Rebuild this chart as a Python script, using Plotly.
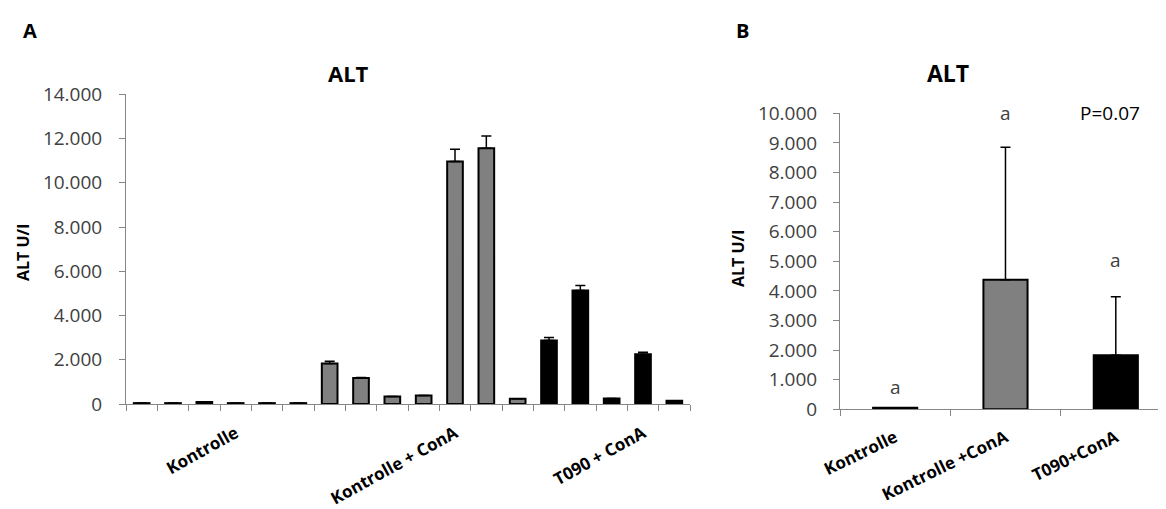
import plotly.graph_objects as go

# ---------------- Data: panel A (individual animals) ----------------
samples_a = ["K1", "K2", "K3", "K4", "K5", "K6",
             "KC1", "KC2", "KC3", "KC4", "KC5", "KC6", "KC7",
             "T1", "T2", "T3", "T4", "T5"]
alt_a = [40, 40, 90, 40, 40, 40,
         1830, 1170, 340, 380, 10960, 11560, 240,
         2870, 5130, 250, 2250, 150]
err_a = [0, 0, 0, 0, 0, 0,
         100, 30, 0, 0, 560, 560, 0,
         140, 230, 0, 90, 0]
groups_a = ["Kontrolle", "Kontrolle + ConA", "T090 + ConA"]
group_label_index_a = [3, 10, 16]
colors_a = ["#808080"] * 13 + ["#000000"] * 5
yticks_a = [0, 2000, 4000, 6000, 8000, 10000, 12000, 14000]

# ---------------- Data: panel B (group means) ----------------
groups_b = ["Kontrolle", "Kontrolle +ConA", "T090+ConA"]
alt_b = [50, 4380, 1830]
err_b = [0, 4470, 1970]
colors_b = ["#000000", "#808080", "#000000"]
letters_b = ["a", "a", "a"]
letter_y_b = [750, 10000, 5050]
yticks_b = [0, 1000, 2000, 3000, 4000, 5000, 6000, 7000, 8000, 9000, 10000]

# page body has an 8px default margin: figure is sized to fit the window
OFF = 8
W, H = 1166 - OFF, 509 - OFF
FONT = "Open Sans"
AX = "#868686"
TXT = "#404040"

ticktext_a = [""] * len(samples_a)
for g, i in zip(groups_a, group_label_index_a):
    ticktext_a[i] = g

fig = go.Figure()

fig.add_trace(go.Bar(
    x=samples_a, y=alt_a, xaxis="x", yaxis="y",
    marker=dict(color=colors_a, line=dict(color="#000000", width=2)),
    error_y=dict(type="data", symmetric=False, array=err_a,
                 arrayminus=[0] * len(err_a), color="#000000",
                 thickness=1.5, width=5),
    showlegend=False,
))

fig.add_trace(go.Bar(
    x=groups_b, y=alt_b, xaxis="x2", yaxis="y2", width=0.4,
    marker=dict(color=colors_b, line=dict(color="#000000", width=2)),
    error_y=dict(type="data", symmetric=False, array=err_b,
                 arrayminus=[0] * len(err_b), color="#000000",
                 thickness=1.5, width=5),
    showlegend=False,
))

def px_x(p):
    return (p - OFF) / W

def px_y(p):
    return 1 - (p - OFF) / H

axis_common = dict(showline=True, linecolor=AX, linewidth=1, showgrid=False,
                   zeroline=False, ticks="outside", tickcolor=AX, ticklen=6,
                   automargin=False)

fig.update_layout(
    template="none",
    width=W, height=H,
    margin=dict(l=0, r=0, t=0, b=0, pad=0),
    paper_bgcolor="white", plot_bgcolor="white",
    separators=",.",
    bargap=0.5,
    showlegend=False,
    font=dict(family=FONT, color=TXT),
    xaxis=dict(**axis_common, domain=[px_x(126), px_x(690)], anchor="y",
               type="category", tickson="boundaries",
               tickmode="array", tickvals=samples_a, ticktext=ticktext_a,
               tickangle=-29, ticklabelstandoff=12,
               tickfont=dict(family=FONT, size=17, color="#000000", weight="bold")),
    yaxis=dict(**axis_common, domain=[px_y(404), px_y(94.3)], anchor="x",
               range=[0, 14000], tickmode="array", tickvals=yticks_a,
               tickformat=",d", ticklabelstandoff=13,
               tickfont=dict(family=FONT, size=19, color=TXT)),
    xaxis2=dict(**axis_common, domain=[px_x(840), 1.0], anchor="y2",
                type="category", tickson="boundaries",
                range=[-0.5, 2.455],
                tickangle=-26, ticklabelstandoff=11,
                tickfont=dict(family=FONT, size=17, color="#000000", weight="bold")),
    yaxis2=dict(**axis_common, domain=[px_y(409.3), px_y(113.3)], anchor="x2",
                range=[0, 10000], tickmode="array", tickvals=yticks_b,
                tickformat=",d", ticklabelstandoff=12,
                tickfont=dict(family=FONT, size=19, color=TXT)),
)

def paper_ann(text, x, y, size, color="#000000", angle=0):
    return dict(text=text, x=px_x(x), y=px_y(y), xref="paper", yref="paper",
                xanchor="center", yanchor="middle", textangle=angle,
                showarrow=False, font=dict(size=size, color=color))

ann = [
    paper_ann("<b>A</b>", 30, 30, 20),
    paper_ann("<b>B</b>", 742, 30, 20),
    paper_ann("<b>ALT</b>", 348, 73, 22),
    paper_ann("<b>ALT</b>", 948, 73, 23),
    paper_ann("<b>ALT U/l</b>", 23, 252, 16, angle=-90),
    paper_ann("<b>ALT U/l</b>", 738, 258, 16, angle=-90),
    paper_ann("P=0.07", 1110, 113, 19),
]
for g, letter, ly in zip(groups_b, letters_b, letter_y_b):
    ann.append(dict(text=letter, x=g, y=ly, xref="x2", yref="y2",
                    xanchor="center", yanchor="middle",
                    showarrow=False, font=dict(size=19, color=TXT)))
fig.update_layout(annotations=ann)

fig.write_html("out.html")
